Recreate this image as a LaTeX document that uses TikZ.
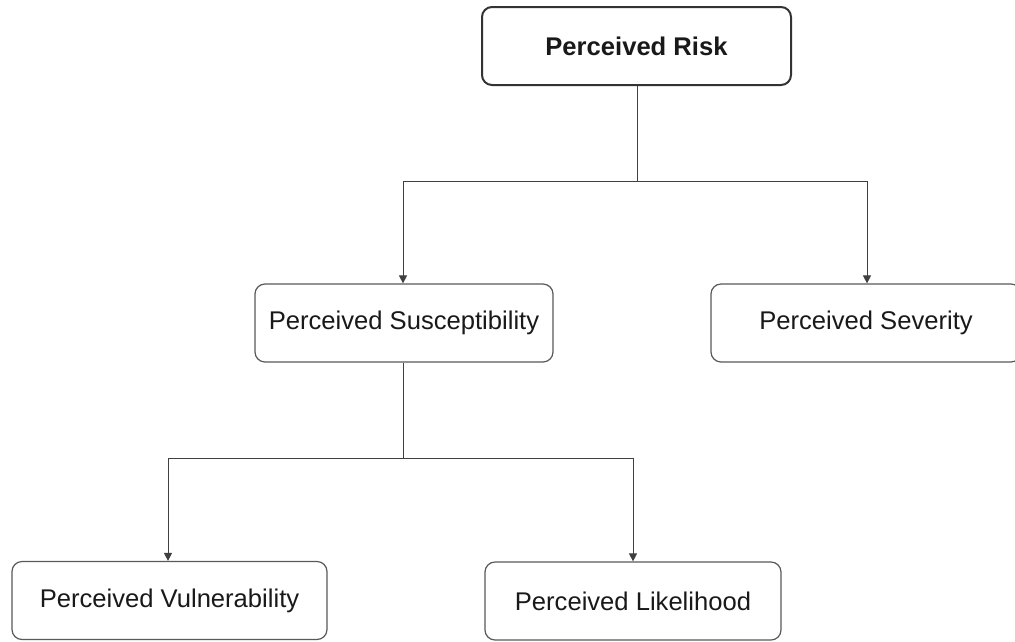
\documentclass[tikz,border=0pt]{standalone}
\usepackage{fontspec}
\setmainfont{Liberation Sans}
\usetikzlibrary{arrows.meta}
\begin{document}
\begin{tikzpicture}[x=1pt,y=-1pt,
  box/.style={draw=black!65,line width=1.2pt,rounded corners=10pt,fill=white,
    minimum height=78pt,inner sep=0pt,font=\fontsize{25.6}{30}\selectfont,text=black!90},
  conn/.style={draw=black!75,line width=1pt},
  arr/.style={conn,-{Triangle[width=8pt,length=8pt]}}]
\useasboundingbox (0,0) rectangle (1015,641);
\node[box,line width=2pt,draw=black!80,minimum width=309pt,font=\fontsize{25.6}{30}\selectfont\bfseries] (risk) at (636.5,46) {Perceived Risk};
\node[box,minimum width=298pt] (sus) at (404,323) {Perceived Susceptibility};
\node[box,minimum width=310pt] (sev) at (866,323) {Perceived Severity};
\node[box,minimum width=315pt] (vul) at (169.5,600.5) {Perceived Vulnerability};
\node[box,minimum width=296pt] (lik) at (633,601) {Perceived Likelihood};
\coordinate (j1) at (637,181);
\coordinate (j2) at (403,458);
\draw[conn] (risk.south -| j1) -- (j1);
\draw[arr] (j1) -| (sus.north -| 403,0);
\draw[arr] (j1) -| (sev.north -| 867,0);
\draw[conn] (sus.south -| j2) -- (j2);
\draw[arr] (j2) -| (vul.north -| 168,0);
\draw[arr] (j2) -| (lik.north -| 633,0);
\end{tikzpicture}
\end{document}
